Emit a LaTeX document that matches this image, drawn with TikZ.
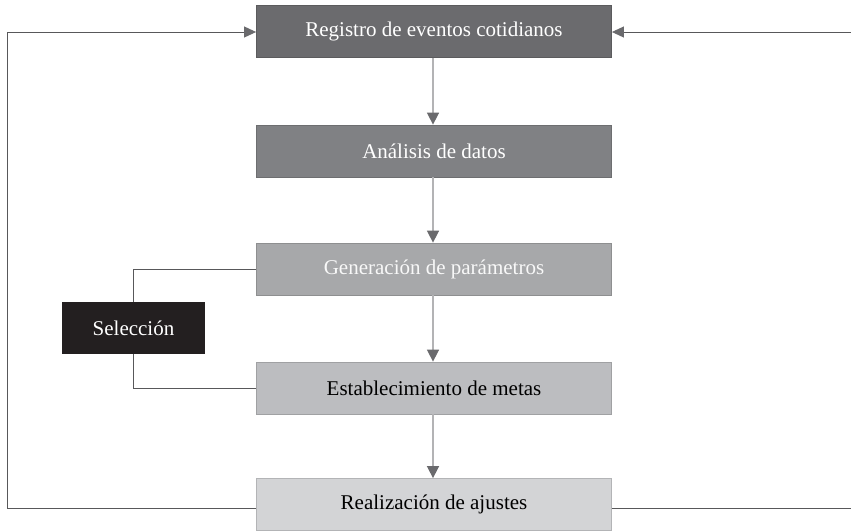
\documentclass[tikz,border=0pt]{standalone}
\usepackage{fontspec}
\setmainfont{Liberation Serif}
\usetikzlibrary{arrows.meta}
\definecolor{cA}{HTML}{6B6B6E}
\definecolor{cB}{HTML}{808184}
\definecolor{cC}{HTML}{A7A8AA}
\definecolor{cD}{HTML}{BCBDC0}
\definecolor{cE}{HTML}{D3D4D6}
\definecolor{cS}{HTML}{231F20}
\definecolor{shaft}{HTML}{B3B3B5}
\definecolor{tipc}{HTML}{6A6A6D}
\definecolor{linec}{HTML}{58585A}
\tikzset{
  stepbox/.style={draw=#1!85!black, line width=0.8pt, fill=#1, minimum width=355pt, minimum height=52pt, inner sep=0pt, font=\fontsize{21}{24}\selectfont},
  downarrow/.style={draw=shaft, line width=1.6pt, -{Triangle[length=12pt,width=12pt,color=tipc]}},
  loopline/.style={draw=linec, line width=0.9pt},
  looparrow/.style={draw=linec, line width=0.9pt, -{Triangle[length=12pt,width=11pt,color=tipc]}}
}
\begin{document}
\begin{tikzpicture}[x=1pt,y=-1pt]
\useasboundingbox (0,0) rectangle (851,531);
\node[stepbox=cA, text=white] (n1) at (434,31.5) {Registro de eventos cotidianos};
\node[stepbox=cB, text=white] (n2) at (434,151) {Análisis de datos};
\node[stepbox=cC, text=white!92!cC] (n3) at (434,269) {Generación de parámetros};
\node[stepbox=cD, text=black] (n4) at (434,388) {Establecimiento de metas};
\node[stepbox=cE, text=black] (n5) at (434,504.5) {Realización de ajustes};
\node[fill=cS, minimum width=143pt, minimum height=52pt, inner sep=0pt, text=white, font=\fontsize{21}{24}\selectfont] (sel) at (133.5,328) {Selección};
\draw[downarrow] (n1.south -| 433,0) -- (n2.north -| 433,0);
\draw[downarrow] (n2.south -| 433,0) -- (n3.north -| 433,0);
\draw[downarrow] (n3.south -| 433,0) -- (n4.north -| 433,0);
\draw[downarrow] (n4.south -| 433,0) -- (n5.north -| 433,0);
\coordinate (lb) at (7,508);
\coordinate (lt) at (7,32);
\coordinate (rb) at (851,508);
\coordinate (rt) at (851,32);
\draw[looparrow] (n5.west |- lb) -- (lb) -- (lt) -- (n1.west |- lt);
\draw[looparrow] (n5.east |- rb) -- (rb) -- (rt) -- (n1.east |- rt);
\draw[loopline] (n3.west) -- (133,269) -- (sel.north -| 133,0);
\draw[loopline] (n4.west) -- (133,388) -- (sel.south -| 133,0);
\end{tikzpicture}
\end{document}
